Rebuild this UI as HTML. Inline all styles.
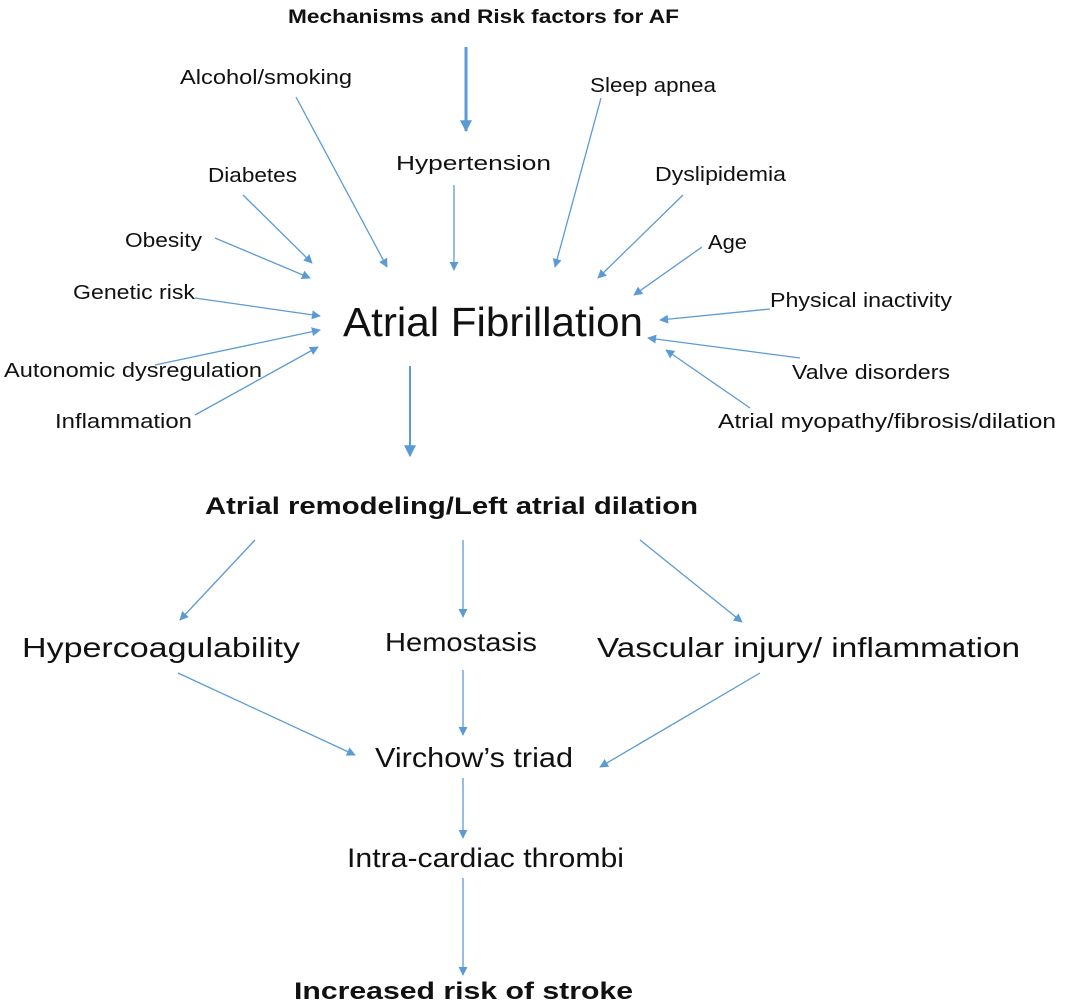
<!DOCTYPE html>
<html><head><meta charset="utf-8">
<style>
html,body{margin:0;padding:0;background:#fff;}
svg{display:block;}
text{font-family:"Liberation Sans",sans-serif;fill:#111;}
.b{font-weight:bold;}
</style></head>
<body>
<svg width="1076" height="1007" viewBox="0 0 1076 1007" xmlns="http://www.w3.org/2000/svg">
<defs>
<marker id="a" viewBox="0 0 10 10" refX="9" refY="5" markerWidth="9" markerHeight="9" markerUnits="userSpaceOnUse" orient="auto">
<path d="M0,0 L10,5 L0,10 z" fill="#5B9BD5"/>
</marker>
<marker id="t" viewBox="0 0 10 10" refX="9" refY="5" markerWidth="12" markerHeight="12" markerUnits="userSpaceOnUse" orient="auto">
<path d="M0,0 L10,5 L0,10 z" fill="#5B9BD5"/>
</marker>
</defs>
<g stroke="#5B9BD5" stroke-width="1.3" fill="none" marker-end="url(#a)">
<line x1="296" y1="97" x2="387" y2="267"/>
<line x1="454" y1="185" x2="454" y2="270"/>
<line x1="243" y1="195" x2="312" y2="263"/>
<line x1="215" y1="238" x2="310" y2="278"/>
<line x1="195" y1="298" x2="320" y2="316"/>
<line x1="155" y1="365" x2="320" y2="330"/>
<line x1="195" y1="415" x2="318" y2="347"/>
<line x1="601" y1="98" x2="555" y2="267"/>
<line x1="683" y1="195" x2="598" y2="278"/>
<line x1="702" y1="247" x2="634" y2="295"/>
<line x1="770" y1="309" x2="660" y2="320"/>
<line x1="800" y1="358" x2="648" y2="338"/>
<line x1="750" y1="408" x2="666" y2="350"/>
<line x1="255" y1="540" x2="180" y2="620"/>
<line x1="463" y1="540" x2="463" y2="617"/>
<line x1="640" y1="540" x2="742" y2="622"/>
<line x1="178" y1="673" x2="355" y2="755"/>
<line x1="463" y1="670" x2="463" y2="735"/>
<line x1="760" y1="673" x2="600" y2="767"/>
<line x1="463" y1="778" x2="463" y2="838"/>
<line x1="463" y1="878" x2="463" y2="975"/>
</g>
<line x1="466" y1="47" x2="466" y2="131" stroke="#5B9BD5" stroke-width="3" marker-end="url(#t)"/>
<line x1="410" y1="366" x2="410" y2="456" stroke="#5B9BD5" stroke-width="2" marker-end="url(#t)"/>

<text class="b" x="288" y="23" font-size="19" textLength="391" lengthAdjust="spacingAndGlyphs">Mechanisms and Risk factors for AF</text>
<text x="180" y="84" font-size="20" textLength="172" lengthAdjust="spacingAndGlyphs">Alcohol/smoking</text>
<text x="396" y="170" font-size="20" textLength="155" lengthAdjust="spacingAndGlyphs">Hypertension</text>
<text x="208" y="182" font-size="20" textLength="89" lengthAdjust="spacingAndGlyphs">Diabetes</text>
<text x="125" y="247" font-size="20" textLength="77" lengthAdjust="spacingAndGlyphs">Obesity</text>
<text x="73" y="299" font-size="20" textLength="122" lengthAdjust="spacingAndGlyphs">Genetic risk</text>
<text x="4" y="377" font-size="20" textLength="258" lengthAdjust="spacingAndGlyphs">Autonomic dysregulation</text>
<text x="55" y="428" font-size="20" textLength="137" lengthAdjust="spacingAndGlyphs">Inflammation</text>
<text x="590" y="92" font-size="20" textLength="126" lengthAdjust="spacingAndGlyphs">Sleep apnea</text>
<text x="655" y="181" font-size="20" textLength="131" lengthAdjust="spacingAndGlyphs">Dyslipidemia</text>
<text x="708" y="249" font-size="20" textLength="39" lengthAdjust="spacingAndGlyphs">Age</text>
<text x="770" y="307" font-size="20" textLength="182" lengthAdjust="spacingAndGlyphs">Physical inactivity</text>
<text x="792" y="379" font-size="20" textLength="158" lengthAdjust="spacingAndGlyphs">Valve disorders</text>
<text x="718" y="428" font-size="20" textLength="338" lengthAdjust="spacingAndGlyphs">Atrial myopathy/fibrosis/dilation</text>
<text x="343" y="336" font-size="41" textLength="300" lengthAdjust="spacingAndGlyphs">Atrial Fibrillation</text>

<text class="b" x="205" y="514" font-size="24" textLength="493" lengthAdjust="spacingAndGlyphs">Atrial remodeling/Left atrial dilation</text>
<text x="22" y="657" font-size="28" textLength="278" lengthAdjust="spacingAndGlyphs">Hypercoagulability</text>
<text x="385" y="651" font-size="26" textLength="152" lengthAdjust="spacingAndGlyphs">Hemostasis</text>
<text x="597" y="657" font-size="28" textLength="423" lengthAdjust="spacingAndGlyphs">Vascular injury/ inflammation</text>
<text x="375" y="767" font-size="28" textLength="198" lengthAdjust="spacingAndGlyphs">Virchow’s triad</text>
<text x="347" y="867" font-size="27" textLength="277" lengthAdjust="spacingAndGlyphs">Intra-cardiac thrombi</text>
<text class="b" x="294" y="999" font-size="24" textLength="339" lengthAdjust="spacingAndGlyphs">Increased risk of stroke</text>
</svg>
</body></html>
